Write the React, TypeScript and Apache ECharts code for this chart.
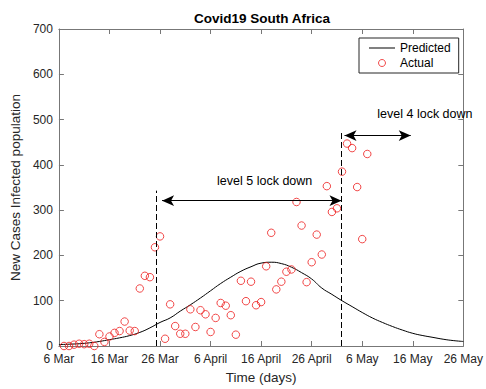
import React, { useEffect, useRef } from "react";
import * as echarts from "echarts";

const tickLabels = ["6 Mar", "16 Mar", "26 Mar", "6 April", "16 April", "26 April", "6 May", "16 May", "26 May"];

// Actual daily new cases, day 1 .. day 61 (day 0 = 6 Mar)
const actualCases = [
  0, 0, 3, 5, 4, 5, 0, 26, 9, 21,
  29, 33, 54, 34, 33, 127, 155, 152, 218, 242,
  16, 92, 44, 27, 27, 81, 42, 79, 70, 31,
  62, 95, 89, 68, 25, 144, 99, 142, 90, 97,
  176, 250, 125, 142, 164, 169, 318, 266, 141, 185,
  246, 202, 353, 296, 304, 385, 447, 437, 351, 236,
  424,
];

const predictedDays = [0, 2, 4, 6, 8, 10, 12, 14, 16, 18, 20, 22, 24, 26, 28, 30, 32, 34, 36, 38, 40, 42, 44, 46, 48, 50, 52, 54, 56, 58, 60, 62, 64, 66, 68, 70, 72, 74, 76, 78, 80];
const predictedCases = [3, 4, 5, 7, 10, 14, 18, 23, 30, 40, 52, 62, 77, 91, 106, 122, 138, 152, 165, 175, 183, 185, 182, 174, 162, 148, 128, 114, 100, 87, 74, 62, 52, 43, 35, 28, 23, 19, 15, 12, 10];

const font = "'Liberation Sans', Arial, Helvetica, sans-serif";
const axisColor = "#777777";
const labelColor = "#262626";
const red = "#ee1c1c";

export default function App() {
  const ref = useRef<HTMLDivElement>(null);

  useEffect(() => {
    if (!ref.current) return;
    const chart = echarts.init(ref.current, undefined, { renderer: "svg" });

    const axisCommon = {
      type: "value" as const,
      splitLine: { show: false },
      axisLine: { show: true, onZero: false, lineStyle: { color: axisColor, width: 1 } },
      axisTick: { show: true, inside: true, length: 5, lineStyle: { color: axisColor } },
    };

    const dashed = { type: [6, 3], color: "#000", width: 1 };
    const solid = { type: "solid", color: "#000", width: 1 };

    const option = {
      animation: false,
      backgroundColor: "#ffffff",
      textStyle: { fontFamily: font },
      title: {
        text: "Covid19 South Africa",
        left: 257,
        top: 6,
        textAlign: "center",
        textStyle: { fontSize: 13.5, fontWeight: "bold", color: "#000", fontFamily: font },
      },
      legend: {
        orient: "vertical",
        left: 359,
        top: 38,
        padding: [4, 8, 4, 10],
        itemGap: 3,
        itemWidth: 26,
        itemHeight: 7,
        symbolKeepAspect: true,
        borderColor: "#262626",
        borderWidth: 1,
        borderRadius: 0,
        backgroundColor: "#ffffff",
        textStyle: { fontSize: 12, color: "#000", fontFamily: font },
        data: [
          { name: "Predicted", icon: "path://M0 0 H26 V1 H0 Z", itemStyle: { color: "#000" } },
          {
            name: "Actual",
            icon: "circle",
            itemStyle: { color: "rgba(0,0,0,0)", borderColor: red, borderWidth: 1 },
          },
        ],
      },
      grid: { left: 57, right: 19, top: 29, bottom: 38, containLabel: false },
      xAxis: [
        {
          ...axisCommon,
          min: 0,
          max: 80,
          interval: 10,
          position: "bottom",
          axisLabel: {
            color: labelColor,
            fontSize: 12,
            margin: 7,
            formatter: (v: number) => tickLabels[Math.round(v / 10)] ?? "",
          },
          name: "Time (days)",
          nameLocation: "middle",
          nameGap: 24,
          nameTextStyle: { fontSize: 13.5, color: labelColor, fontFamily: font },
        },
        {
          ...axisCommon,
          min: 0,
          max: 80,
          interval: 10,
          position: "top",
          axisLabel: { show: false },
        },
      ],
      yAxis: [
        {
          ...axisCommon,
          min: 0,
          max: 700,
          interval: 100,
          position: "left",
          axisLabel: { color: labelColor, fontSize: 12, margin: 6 },
          name: "New Cases Infected population",
          nameLocation: "middle",
          nameGap: 27,
          nameTextStyle: { fontSize: 13.5, color: labelColor, fontFamily: font },
        },
        {
          ...axisCommon,
          min: 0,
          max: 700,
          interval: 100,
          position: "right",
          axisLabel: { show: false },
        },
      ],
      series: [
        {
          name: "Predicted",
          type: "line",
          xAxisIndex: 0,
          yAxisIndex: 0,
          smooth: true,
          symbol: "none",
          data: predictedDays.map((d, i) => [d, predictedCases[i]]),
          lineStyle: { color: "#000", width: 1 },
          itemStyle: { color: "#000" },
          z: 3,
          markLine: {
            silent: true,
            animation: false,
            symbol: ["none", "none"],
            label: { show: false },
            data: [
              [{ coord: [19.2, 0], lineStyle: dashed }, { coord: [19.2, 343] }],
              [{ coord: [55.9, 0], lineStyle: dashed }, { coord: [55.9, 476] }],
              [
                { coord: [20.4, 321], lineStyle: solid, symbol: "arrow", symbolSize: [8, 12] },
                { coord: [55.9, 321], symbol: "arrow", symbolSize: [8, 12] },
              ],
              [
                { coord: [56.5, 464.6], lineStyle: solid, symbol: "arrow", symbolSize: [8, 12] },
                { coord: [69.6, 464.6], symbol: "arrow", symbolSize: [8, 12] },
              ],
            ],
          },
          markPoint: {
            silent: true,
            animation: false,
            symbol: "circle",
            symbolSize: 0,
            itemStyle: { color: "transparent" },
            label: {
              show: true,
              position: "inside",
              color: "#000",
              fontSize: 12.5,
              fontFamily: font,
              formatter: "{b}",
            },
            data: [
              { name: "level 5 lock down", coord: [40.7, 364.6] },
              { name: "level 4 lock down", coord: [72.4, 511.5] },
            ],
          },
        },
        {
          name: "Actual",
          type: "scatter",
          xAxisIndex: 0,
          yAxisIndex: 0,
          symbol: "circle",
          symbolSize: 7.5,
          data: actualCases.map((v, i) => [i + 1, v]),
          itemStyle: { color: "rgba(0,0,0,0)", borderColor: red, borderWidth: 1 },
          z: 4,
        },
      ],
    };

    chart.setOption(option as any);
    return () => chart.dispose();
  }, []);

  return (
    <div
      ref={ref}
      style={{ position: "fixed", left: 0, top: 0, width: 486, height: 389, background: "#fff" }}
    />
  );
}
